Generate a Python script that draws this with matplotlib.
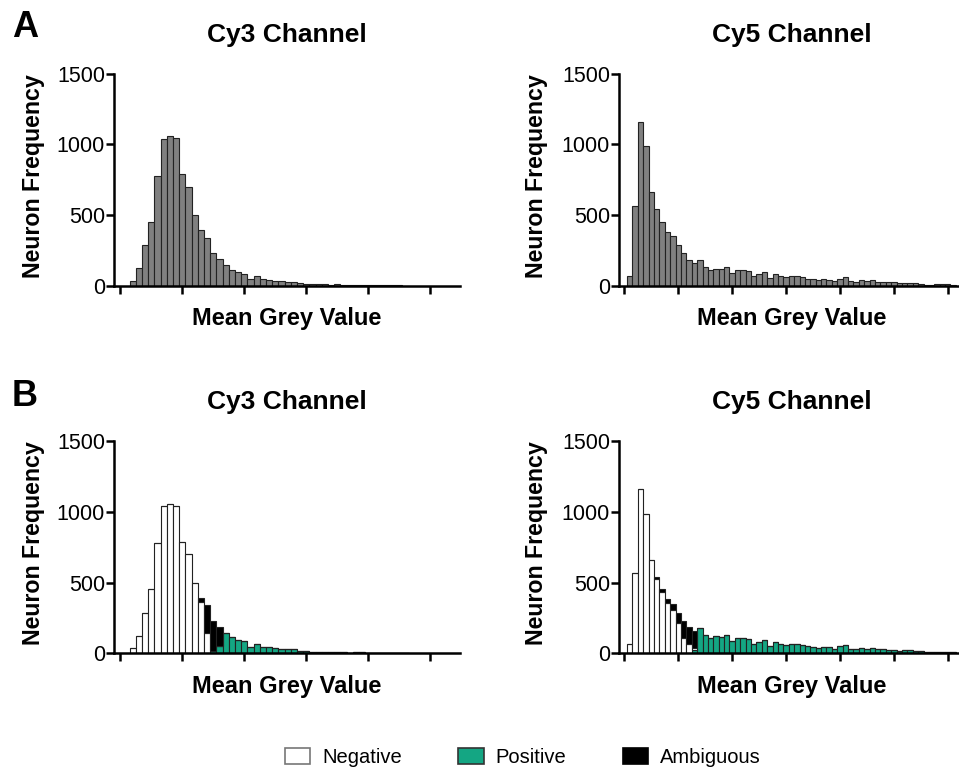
import numpy as np
import matplotlib
matplotlib.use("Agg")
import matplotlib.pyplot as plt
from matplotlib.patches import Patch

plt.rcParams['font.family'] = ['Liberation Sans', 'DejaVu Sans']

# Cy3 histogram: bin counts, bins centred at 2, 3, ... 46
cy3_bins = np.arange(2, 47)
cy3_total = [35, 123, 288, 453, 779, 1039, 1058, 1044, 787, 701,
             498, 392, 340, 229, 187, 146, 113, 94, 85, 45,
             68, 47, 42, 35, 31, 28, 28, 17, 14, 12,
             10, 9, 8, 12, 6, 5, 8, 8, 5, 3,
             3, 2, 2, 2, 1]
cy3_negative = [35, 123, 288, 453, 779, 1039, 1058, 1044, 787, 701,
                498, 364, 142, 0, 0, 0, 0, 0, 0, 0,
                0, 0, 0, 0, 0, 0, 0, 0, 0, 0,
                0, 0, 0, 0, 0, 0, 0, 0, 0, 0,
                0, 0, 0, 0, 0]
cy3_ambiguous = [0, 0, 0, 0, 0, 0, 0, 0, 0, 0,
                 0, 28, 198, 215, 135, 0, 0, 0, 0, 0,
                 0, 0, 0, 0, 0, 0, 0, 0, 0, 0,
                 0, 0, 0, 0, 0, 0, 0, 0, 0, 0,
                 0, 0, 0, 0, 0]
cy3_positive = [0, 0, 0, 0, 0, 0, 0, 0, 0, 0,
                0, 0, 0, 14, 52, 146, 113, 94, 85, 45,
                68, 47, 42, 35, 31, 28, 28, 17, 14, 12,
                10, 9, 8, 12, 6, 5, 8, 8, 5, 3,
                3, 2, 2, 2, 1]

# Cy5 histogram: bins centred at 1, 2, ... 61
cy5_bins = np.arange(1, 62)
cy5_total = [68, 567, 1160, 987, 661, 543, 453, 383, 350, 288,
             229, 184, 161, 182, 130, 111, 120, 118, 130, 87,
             109, 111, 102, 68, 80, 97, 54, 80, 66, 59,
             68, 66, 59, 50, 45, 38, 47, 42, 31, 50,
             59, 31, 28, 40, 31, 38, 28, 28, 26, 26,
             17, 21, 21, 17, 14, 7, 7, 9, 12, 12,
             7]
cy5_negative = [68, 567, 1160, 987, 661, 529, 436, 359, 303, 213,
                111, 64, 15, 0, 0, 0, 0, 0, 0, 0,
                0, 0, 0, 0, 0, 0, 0, 0, 0, 0,
                0, 0, 0, 0, 0, 0, 0, 0, 0, 0,
                0, 0, 0, 0, 0, 0, 0, 0, 0, 0,
                0, 0, 0, 0, 0, 0, 0, 0, 0, 0,
                0]
cy5_ambiguous = [0, 0, 0, 0, 0, 14, 17, 24, 47, 75,
                 118, 120, 125, 0, 0, 0, 0, 0, 0, 0,
                 0, 0, 0, 0, 0, 0, 0, 0, 0, 0,
                 0, 0, 0, 0, 0, 0, 0, 0, 0, 0,
                 0, 0, 0, 0, 0, 0, 0, 0, 0, 0,
                 0, 0, 0, 0, 0, 0, 0, 0, 0, 0,
                 0]
cy5_positive = [0, 0, 0, 0, 0, 0, 0, 0, 0, 0,
                0, 0, 21, 182, 130, 111, 120, 118, 130, 87,
                109, 111, 102, 68, 80, 97, 54, 80, 66, 59,
                68, 66, 59, 50, 45, 38, 47, 42, 31, 50,
                59, 31, 28, 40, 31, 38, 28, 28, 26, 26,
                17, 21, 21, 17, 14, 7, 7, 9, 12, 12,
                7]

GREY = '#808080'
GREEN = '#14a683'
EDGE = '#222222'

W, H = 959, 771
fig = plt.figure(figsize=(W / 100, H / 100), dpi=100)


def px(x, y):
    # pixel position -> figure fraction
    return x / W, 1 - y / H


def make_axes(left, right, y0, y_top, xmax, nticks):
    ax = fig.add_axes([left / W, 1 - y0 / H, (right - left) / W, (y0 - y_top) / H])
    ax.set_xlim(-1, xmax)
    ax.set_ylim(0, 1500)
    for s in ['top', 'right']:
        ax.spines[s].set_visible(False)
    for s in ['left', 'bottom']:
        ax.spines[s].set_linewidth(1.8)
        ax.spines[s].set_zorder(5)
    ax.set_xticks(np.arange(0, nticks * 10 + 1, 10))
    ax.set_xticklabels([])
    ax.set_yticks([0, 500, 1000, 1500])
    ax.tick_params(axis='both', length=5.5, width=1.8, direction='out')
    ax.tick_params(axis='y', labelsize=15.5, pad=1)
    return ax


rows = [(285.7, 73.6), (653.3, 441.3)]
panels = [
    # (left, right, xmax, nticks, title, centre x, ylabel x)
    (114, 460, 54.8, 5, 'Cy3 Channel', 286.7, 34),
    (619, 958, 61.9, 6, 'Cy5 Channel', 791.5, 536),
]

axes = {}
for r, (y0, ytop) in enumerate(rows):
    shift = y0 - 285.7
    for c, (left, right, xmax, nt, title, cx, ylx) in enumerate(panels):
        ax = make_axes(left, right, y0, ytop, xmax, nt)
        axes[(r, c)] = ax
        fig.text(*px(cx, 41.7 + shift), title, ha='center', va='baseline',
                 fontsize=19, fontweight='bold')
        fig.text(*px(cx, 325.0 + shift), 'Mean Grey Value', ha='center',
                 va='baseline', fontsize=17, fontweight='bold')
        fig.text(*px(ylx, 176 + shift), 'Neuron Frequency', ha='center',
                 va='center', rotation=90, fontsize=16.7, fontweight='bold')

fig.text(*px(12, 37), 'A', ha='left', va='baseline', fontsize=26, fontweight='bold')
fig.text(*px(12, 406.5), 'B', ha='left', va='baseline', fontsize=26, fontweight='bold')

bar_kw = dict(width=1.0, edgecolor=EDGE, linewidth=0.8)

# row A: whole distributions
axes[(0, 0)].bar(cy3_bins, cy3_total, color=GREY, **bar_kw)
axes[(0, 1)].bar(cy5_bins, cy5_total, color=GREY, **bar_kw)

# row B: split into positive / negative / ambiguous
for ax, bins, pos, neg, amb in [
    (axes[(1, 0)], cy3_bins, cy3_positive, cy3_negative, cy3_ambiguous),
    (axes[(1, 1)], cy5_bins, cy5_positive, cy5_negative, cy5_ambiguous),
]:
    pos = np.array(pos)
    neg = np.array(neg)
    amb = np.array(amb)
    ax.bar(bins, pos, color=GREEN, **bar_kw)
    ax.bar(bins, neg, bottom=pos, color='white', **bar_kw)
    ax.bar(bins, amb, bottom=pos + neg, color='black', **bar_kw)

handles = [Patch(facecolor='white', edgecolor='#777777', linewidth=1.2),
           Patch(facecolor=GREEN, edgecolor='#333333', linewidth=1.2),
           Patch(facecolor='black', edgecolor='black', linewidth=1.2)]
fig.legend(handles, ['Negative', 'Positive', 'Ambiguous'], loc='center',
           bbox_to_anchor=px(523, 757.5), ncol=3, frameon=False, fontsize=14.5,
           handlelength=1.25, handleheight=0.85, handletextpad=0.6,
           columnspacing=2.8)

fig.savefig('out.png', dpi=100)
